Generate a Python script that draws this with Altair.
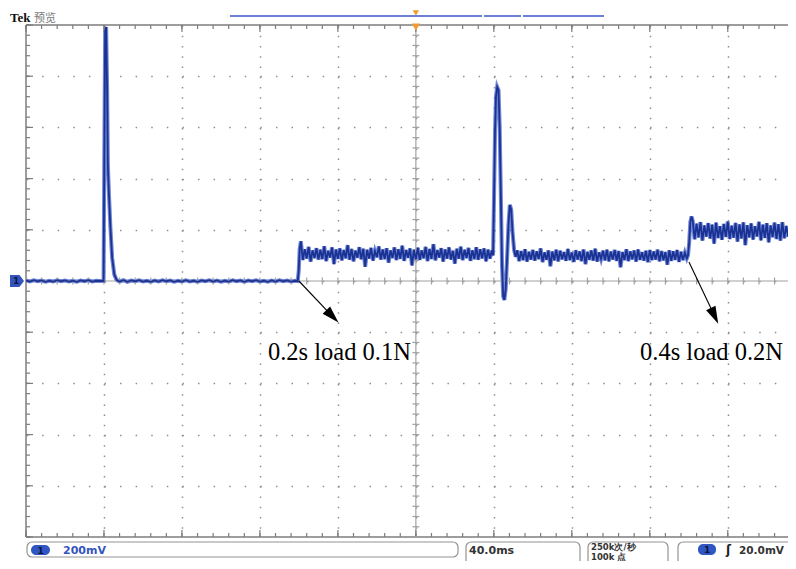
import altair as alt
import pandas as pd

# ---------------- data (time in ms, voltage in mV; 40 ms/div, 200 mV/div) ----------------
base0_v = [2, -2, 3, -1, 2, -3, 1, -2, 3, -1, 2, -2, 1, -3, 2, -1, 3, -2, 1, 0]  # t = 0..38 step 2
spike_t = [39.8, 40.2, 40.6, 41.1, 41.6, 42.0, 42.6, 43.3, 44.2, 45.3, 46.5]
spike_v = [0, 520, 975, 992, 760, 450, 330, 210, 90, 25, 4]
base1_v = [-2, 3, -3, 2, -1, 3, -2, 1, -3, 2,
           -2, 3, -1, 2, -3, 1, -2, 3, -2, 1,
           -3, 2, -1, 3, -2, 2, -3, 1, -2, 3,
           -1, 2, -3, 2, -1, 3, -2, 1, -3, 2,
           -2, 3, -1, 2, -2, 1]  # t = 48..138 step 2
step1_t = [139.4, 139.9, 140.4, 141.0]
step1_v = [0, 40, 125, 155]
load1_v = [82, 124, 88, 133, 76, 120, 90, 128, 84, 122,
           86, 136, 78, 118, 92, 131, 66, 123, 87, 127,
           81, 121, 89, 140, 83, 125, 77, 119, 91, 132,
           85, 126, 56, 122, 88, 129, 80, 117, 93, 135,
           84, 123, 86, 128, 72, 120, 90, 131, 82, 124,
           87, 138, 79, 121, 91, 127, 61, 122, 85, 130,
           83, 119, 89, 133, 78, 125, 86, 144, 81, 121,
           92, 128, 76, 123, 88, 131, 84, 118, 68, 126,
           87, 134, 82, 122, 90, 129, 79, 120, 86, 132,
           83, 124, 89, 127, 77, 122, 88, 119]  # t = 142..239 step 1
osc_t = [239.6, 240.1, 240.6, 241.1, 241.7, 242.4, 243.0, 243.6, 244.2, 244.8,
         245.4, 246.1, 246.8, 247.5, 248.2, 248.9, 249.6, 250.4, 251.2]
osc_v = [100, 330, 580, 720, 758, 745, 600, 330, 60, -60,
         -74, -30, 90, 220, 297, 280, 190, 120, 95]
load1b_v = [120, 78, 117, 82, 124, 76, 114, 84, 121, 80,
            116, 86, 127, 74, 112, 83, 119, 58, 115, 81,
            122, 77, 118, 85, 113, 79, 125, 82, 111, 75,
            120, 84, 116, 78, 123, 66, 114, 83, 119, 80,
            126, 76, 112, 86, 118, 81, 122, 77, 115, 84,
            121, 79, 117, 54, 113, 82, 124, 78, 116, 85,
            119, 76, 123, 83, 112, 80, 118, 74, 121, 82,
            115, 84, 122, 77, 117, 81, 113, 64, 120, 79,
            116, 83, 121, 75, 114, 82, 110, 88]  # t = 252..339 step 1
step2_t = [339.6, 340.2, 340.8, 341.4]
step2_v = [100, 150, 230, 252]
load2_v = [237, 163, 224, 170, 230, 158, 217, 173, 226, 166,
           220, 146, 228, 168, 214, 161, 223, 172, 232, 164,
           216, 169, 227, 154, 221, 166, 229, 140, 218, 170,
           225, 162, 214, 174, 231, 159, 220, 168, 226, 151,
           217, 171, 228, 164, 222, 158, 230, 167, 215, 173,
           224, 161, 220, 168]  # t = 342..395 step 1

# annotations
ann_labels = ["0.2s load 0.1N", "0.4s load 0.2N"]
ann_text_t = [124.1, 315.0]
ann_text_v = [-310, -310]
ann_from_t = [140.0, 340.1]
ann_from_v = [0, 74]
ann_head_t = [157.2, 353.2]
ann_head_v = [-138, -136]
ann_angle = [135.7, 154.5]

T_MAX = 390.9   # visible part of the 10-division screen (cut at the right edge)
V_MAX = 1000

# ---------------- build trace ----------------
t, v = [], []
t += [2 * i for i in range(len(base0_v))]; v += base0_v
t += spike_t; v += spike_v
t += [48 + 2 * i for i in range(len(base1_v))]; v += base1_v
t += step1_t; v += step1_v
t += [142 + i for i in range(len(load1_v))]; v += load1_v
t += osc_t; v += osc_v
t += [252 + i for i in range(len(load1b_v))]; v += load1b_v
t += step2_t; v += step2_v
t += [342 + i for i in range(len(load2_v))]; v += load2_v
trace = pd.DataFrame({"t": t, "v": v, "i": list(range(len(t)))})

ann = pd.DataFrame({
    "label": ann_labels, "tx": ann_text_t, "ty": ann_text_v,
    "fx": ann_from_t, "fy": ann_from_v, "hx": ann_head_t, "hy": ann_head_v,
    "ang": ann_angle,
})

xscale = alt.Scale(domain=[0, T_MAX], nice=False, zero=False)
yscale = alt.Scale(domain=[-V_MAX, V_MAX], nice=False, zero=False)

GRID = "#8e8e8e"
FRAME = "#7c7c7c"

x_axis = alt.Axis(values=list(range(40, 400, 40)), grid=True, gridColor=GRID,
                  gridDash=[1.5, 8.74], gridWidth=1.5, labels=False, ticks=False,
                  domain=False, title=None)
y_axis = alt.Axis(values=list(range(-800, 1000, 200)), grid=True, gridColor=GRID,
                  gridDash=[1.5, 14.09], gridWidth=1.5, labels=False, ticks=False,
                  domain=False, title=None)

one = pd.DataFrame({"d": [0]})

# graticule ticks
tdf_minor = pd.DataFrame({"t": [8 * k for k in range(0, 49)]})
tdf_major = pd.DataFrame({"t": [40 * k for k in range(0, 10)]})
vdf_minor = pd.DataFrame({"v": [-1000 + 40 * k for k in range(0, 51)]})
vdf_major = pd.DataFrame({"v": [-1000 + 200 * k for k in range(0, 11)]})

def rule_x(df, y, off, color=FRAME, width=1.2):
    return alt.Chart(df).mark_rule(color=color, strokeWidth=width, y2Offset=off).encode(
        x=alt.X("t:Q", scale=xscale), y=alt.datum(y), y2=alt.datum(y))

def rule_y(df, x, off, color=FRAME, width=1.2):
    return alt.Chart(df).mark_rule(color=color, strokeWidth=width, x2Offset=off).encode(
        y=alt.Y("v:Q", scale=yscale), x=alt.datum(x), x2=alt.datum(x))

# trace (carries the axes / grid)
halo = alt.Chart(trace).mark_line(color="#4d69c9", strokeWidth=4.0, opacity=0.8, clip=True).encode(
    x=alt.X("t:Q", scale=xscale, axis=x_axis),
    y=alt.Y("v:Q", scale=yscale, axis=y_axis),
    order="i:Q")
core = alt.Chart(trace).mark_line(color="#1a3293", strokeWidth=1.8, clip=True).encode(
    x=alt.X("t:Q", scale=xscale), y=alt.Y("v:Q", scale=yscale), order="i:Q")

# frame (left, top, bottom)
frame = [
    alt.Chart(one).mark_rule(color=FRAME, strokeWidth=1.5).encode(
        x=alt.datum(0), y=alt.datum(-V_MAX), y2=alt.datum(V_MAX)),
    alt.Chart(one).mark_rule(color=FRAME, strokeWidth=1.5).encode(
        y=alt.datum(V_MAX), x=alt.datum(0), x2=alt.datum(T_MAX)),
    alt.Chart(one).mark_rule(color=FRAME, strokeWidth=1.5).encode(
        y=alt.datum(-V_MAX), x=alt.datum(0), x2=alt.datum(T_MAX)),
]
center = [
    alt.Chart(one).mark_rule(color="#a2a2a2", strokeWidth=1.2).encode(
        x=alt.datum(200), y=alt.datum(-V_MAX), y2=alt.datum(V_MAX)),
    alt.Chart(one).mark_rule(color="#a2a2a2", strokeWidth=1.2).encode(
        y=alt.datum(0), x=alt.datum(0), x2=alt.datum(T_MAX)),
]
ticks = [
    rule_x(tdf_minor, V_MAX, 4), rule_x(tdf_major, V_MAX, 7),
    rule_x(tdf_minor, -V_MAX, -4), rule_x(tdf_major, -V_MAX, -7),
    rule_y(vdf_minor, 0, 4), rule_y(vdf_major, 0, 7),
    alt.Chart(tdf_minor).mark_rule(color="#a2a2a2", strokeWidth=1.2, yOffset=-3.5, y2Offset=3.5).encode(
        x=alt.X("t:Q", scale=xscale), y=alt.datum(0), y2=alt.datum(0)),
    alt.Chart(vdf_minor).mark_rule(color="#a2a2a2", strokeWidth=1.2, xOffset=-3.5, x2Offset=3.5).encode(
        y=alt.Y("v:Q", scale=yscale), x=alt.datum(200), x2=alt.datum(200)),
]

# annotations
arrows = alt.Chart(ann).mark_rule(color="black", strokeWidth=1.1).encode(
    x="fx:Q", y="fy:Q", x2="hx:Q", y2="hy:Q")
heads = alt.Chart(ann).mark_point(shape="M0,-1L0.6,1L-0.6,1Z", filled=True, color="black",
                                  opacity=1, size=300, strokeWidth=0).encode(
    x="hx:Q", y="hy:Q", angle=alt.Angle("ang:Q", scale=None))
labels = alt.Chart(ann).mark_text(font="Liberation Serif", fontSize=24.5, align="left",
                                  baseline="alphabetic", color="black").encode(
    x="tx:Q", y="ty:Q", text="label:N")

# scope decorations
BLUE = "#3454bd"
deco = [
    # trigger markers
    alt.Chart(one).mark_point(shape="triangle-down", filled=True, color="#f29a2e", opacity=1,
                              size=40, yOffset=-12).encode(x=alt.datum(200), y=alt.datum(V_MAX)),
    alt.Chart(one).mark_point(shape="triangle-down", filled=True, color="#f29a2e", opacity=1,
                              size=70, yOffset=2).encode(x=alt.datum(200), y=alt.datum(V_MAX)),
    # top record bar
    alt.Chart(one).mark_rule(color="#6d80d8", strokeWidth=2).encode(
        x=alt.value(204), x2=alt.value(456), y=alt.value(-9)),
    alt.Chart(one).mark_rule(color="#6d80d8", strokeWidth=2).encode(
        x=alt.value(458), x2=alt.value(495), y=alt.value(-9)),
    alt.Chart(one).mark_rule(color="#6d80d8", strokeWidth=2).encode(
        x=alt.value(497), x2=alt.value(578), y=alt.value(-9)),
    # ground marker
    alt.Chart(one).mark_point(shape="M-1,-0.85L0.35,-0.85L1,0L0.35,0.85L-1,0.85Z", filled=True,
                              color=BLUE, opacity=1, size=196).encode(
        x=alt.value(-9), y=alt.datum(0)),
    alt.Chart(one).mark_text(text="1", font="DejaVu Sans", fontSize=9, fontWeight="bold",
                             color="#0d1440").encode(x=alt.value(-10), y=alt.datum(0)),
    # Tek label
    alt.Chart(one).mark_text(text="Tek", font="Liberation Serif", fontSize=13, fontWeight="bold",
                             align="left", baseline="alphabetic", color="#111").encode(
        x=alt.value(-16), y=alt.value(-3)),
    alt.Chart(one).mark_text(text="预览", font="Noto Sans CJK SC", fontSize=11,
                             align="left", baseline="alphabetic", color="#777").encode(
        x=alt.value(8), y=alt.value(-3)),
    # status boxes
    alt.Chart(one).mark_rect(cornerRadius=5, fill="white", stroke="#939393", strokeWidth=1.2).encode(
        x=alt.value(1), x2=alt.value(432), y=alt.value(517), y2=alt.value(532)),
    alt.Chart(one).mark_rect(cornerRadius=5, fill="white", stroke="#939393", strokeWidth=1.2).encode(
        x=alt.value(440), x2=alt.value(554), y=alt.value(517), y2=alt.value(540)),
    alt.Chart(one).mark_rect(cornerRadius=5, fill="white", stroke="#939393", strokeWidth=1.2).encode(
        x=alt.value(562), x2=alt.value(642), y=alt.value(517), y2=alt.value(540)),
    alt.Chart(one).mark_rect(cornerRadius=5, fill="white", stroke="#939393", strokeWidth=1.2).encode(
        x=alt.value(652), x2=alt.value(775), y=alt.value(517), y2=alt.value(540)),
    # badge + texts
    alt.Chart(one).mark_rect(cornerRadius=5, fill="#2f56c2").encode(
        x=alt.value(5), x2=alt.value(24), y=alt.value(520), y2=alt.value(530)),
    alt.Chart(one).mark_text(text="1", font="DejaVu Sans", fontSize=9, fontWeight="bold",
                             color="#0d1440").encode(x=alt.value(14.5), y=alt.value(525.5)),
    alt.Chart(one).mark_text(text="200mV", font="DejaVu Sans", fontSize=11, fontWeight="bold",
                             align="left", baseline="alphabetic", color=BLUE).encode(
        x=alt.value(37), y=alt.value(529)),
    alt.Chart(one).mark_text(text="40.0ms", font="DejaVu Sans", fontSize=11, fontWeight="bold",
                             align="left", baseline="alphabetic", color="#333").encode(
        x=alt.value(443), y=alt.value(529)),
    alt.Chart(one).mark_text(text="250k次/秒", font="DejaVu Sans", fontSize=8.5, fontWeight="bold",
                             align="left", baseline="alphabetic", color="#333").encode(
        x=alt.value(565), y=alt.value(524.5)),
    alt.Chart(one).mark_text(text="100k 点", font="DejaVu Sans", fontSize=8.5, fontWeight="bold",
                             align="left", baseline="alphabetic", color="#333").encode(
        x=alt.value(565), y=alt.value(534.5)),
    alt.Chart(one).mark_rect(cornerRadius=5, fill="#2f56c2").encode(
        x=alt.value(672), x2=alt.value(690), y=alt.value(519), y2=alt.value(530)),
    alt.Chart(one).mark_text(text="1", font="DejaVu Sans", fontSize=9, fontWeight="bold",
                             color="#0d1440").encode(x=alt.value(681), y=alt.value(525)),
    alt.Chart(one).mark_text(text="ʃ", font="DejaVu Sans", fontSize=12, fontWeight="bold",
                             align="left", baseline="alphabetic", color="#222").encode(
        x=alt.value(700), y=alt.value(529)),
    alt.Chart(one).mark_text(text="20.0mV", font="DejaVu Sans", fontSize=10.5, fontWeight="bold",
                             align="left", baseline="alphabetic", color="#333").encode(
        x=alt.value(713), y=alt.value(529)),
]

chart = alt.layer(
    halo, *frame, *center, *ticks, core, arrows, heads, labels, *deco
).properties(
    width=762, height=512,
    autosize=alt.AutoSizeParams(type="none"),
    padding={"left": 18, "top": 17, "right": 0, "bottom": 24},
    background="white",
).configure_view(stroke=None)

chart.save("out.html", embed_options={"renderer": "svg", "actions": False})
